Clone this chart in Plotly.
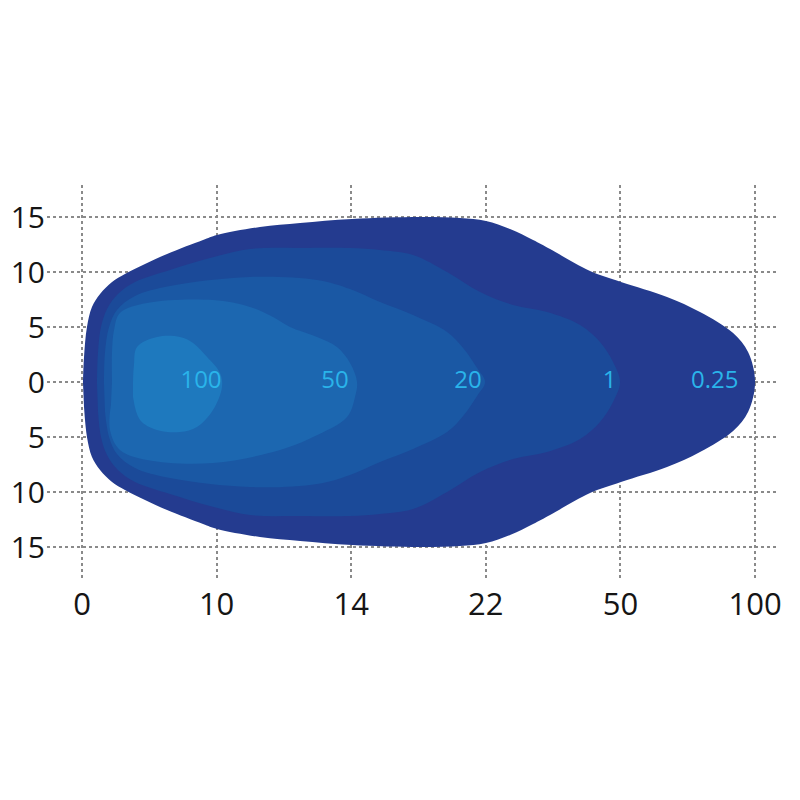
import plotly.graph_objects as go

# ---- axis categories / tick labels ----
x_tick_pos = [0, 1, 2, 3, 4, 5]
x_tick_text = ["0", "10", "14", "22", "50", "100"]
y_tick_pos = [-15, -10, -5, 0, 5, 10, 15]
y_tick_text = ["15", "10", "5", "0", "5", "10", "15"]

# ---- isolux contours (upper half profiles, mirrored about 0) ----
lux025_x = [0.007, 0.015, 0.037, 0.074, 0.134, 0.223, 0.319, 0.468, 0.632, 0.899, 1.003,
            1.322, 1.62, 2.006, 2.511, 2.808, 3.001, 3.18, 3.351, 3.477, 3.774, 4.004,
            4.346, 4.591, 4.837, 4.948, 5.0]
lux025_y = [0, 2.27, 5.0, 6.82, 8.0, 9.09, 9.82, 10.73, 11.64, 12.91, 13.36,
            14.09, 14.45, 14.82, 15.0, 14.91, 14.64, 13.91, 12.91, 12.09, 10.09, 9.09,
            7.73, 6.36, 4.45, 2.73, 0]

lux1_x = [0.111, 0.119, 0.141, 0.186, 0.267, 0.394, 0.654, 0.951, 1.248, 1.62, 1.991,
          2.214, 2.459, 2.712, 2.957, 3.202, 3.455, 3.70, 3.848, 3.945, 3.997]
lux1_y = [0, 2.73, 5.0, 6.64, 8.0, 9.09, 10.18, 11.27, 12.09, 12.18, 12.18,
          12.0, 11.55, 10.0, 8.18, 7.0, 6.36, 5.18, 3.64, 1.82, 0]

lux20_x = [0.163, 0.171, 0.201, 0.26, 0.394, 0.654, 1.248, 1.746, 1.991, 2.214, 2.459,
           2.712, 2.831, 2.935, 2.994]
lux20_y = [0, 2.73, 5.0, 6.55, 7.82, 8.73, 9.55, 9.27, 8.45, 7.27, 6.09,
           4.55, 3.09, 1.27, 0]

# ---- full outlines (not symmetric) ----
lux50_x = [0.223, 0.223, 0.238, 0.282, 0.483, 0.973, 1.248, 1.419, 1.545, 1.746, 1.894,
           1.991, 2.043, 2.028, 1.969, 1.716, 1.471, 0.973, 0.483, 0.282, 0.208, 0.215]
lux50_y = [0, 2.73, 4.73, 6.27, 7.18, 7.45, 6.82, 5.91, 5.0, 4.09, 3.18,
           1.73, 0, -1.36, -3.18, -5.0, -6.18, -7.36, -7.09, -6.18, -4.36, -2.09]

lux100_x = [0.379, 0.386, 0.409, 0.557, 0.728, 0.825, 0.929, 1.025, 1.040, 0.973, 0.854,
            0.728, 0.557, 0.431, 0.379]
lux100_y = [0, 1.55, 3.18, 4.09, 4.09, 3.55, 2.27, 0.82, -0.45, -2.55, -4.09,
            -4.55, -4.36, -3.45, -1.36]

# ---- labels ----
label_text = ["100", "50", "20", "1", "0.25"]
label_x = [0.884, 1.88, 2.868, 3.92, 4.70]
label_y = [0, 0, 0, 0, 0]

colors = {
    "0.25": "#243b8f",
    "1": "#1b4a99",
    "20": "#1a58a4",
    "50": "#1c67b0",
    "100": "#1e79be",
}


def mirror(xs, ys):
    bx = list(reversed(xs[1:-1]))
    by = [-v for v in reversed(ys[1:-1])]
    return xs + bx, ys + by


fig = go.Figure()
shapes = [
    ("0.25", *mirror(lux025_x, lux025_y)),
    ("1", *mirror(lux1_x, lux1_y)),
    ("20", *mirror(lux20_x, lux20_y)),
    ("50", lux50_x, lux50_y),
    ("100", lux100_x, lux100_y),
]
for name, xs, ys in shapes:
    fig.add_trace(go.Scatter(
        x=xs, y=ys, mode="lines", fill="toself",
        fillcolor=colors[name],
        line=dict(width=0, color=colors[name], shape="spline", smoothing=1.0),
        hoverinfo="skip", showlegend=False,
    ))

fig.add_trace(go.Scatter(
    x=label_x, y=label_y, mode="text", text=label_text,
    textfont=dict(family="Open Sans", size=24, color="#2ab4ea"),
    textposition="middle center", hoverinfo="skip", showlegend=False,
))

grid = dict(showgrid=True, gridcolor="#8a8a8a", gridwidth=1.5, griddash="dot",
            zeroline=False, showline=False, ticks="", automargin=False)

fig.update_xaxes(range=[-0.26, 5.163], tickvals=x_tick_pos, ticktext=x_tick_text,
                 tickfont=dict(family="Open Sans", size=31, color="#151515"),
                 ticklabelstandoff=3, **grid)
fig.update_yaxes(range=[-18.0, 17.91], tickvals=y_tick_pos, ticktext=y_tick_text,
                 tickfont=dict(family="Open Sans", size=30, color="#151515"),
                 ticklabelstandoff=1, **grid)

fig.update_layout(
    width=800, height=800,
    margin=dict(l=39, r=31, t=177, b=228),
    paper_bgcolor="white", plot_bgcolor="white",
    showlegend=False,
)

fig.write_html("out.html")
